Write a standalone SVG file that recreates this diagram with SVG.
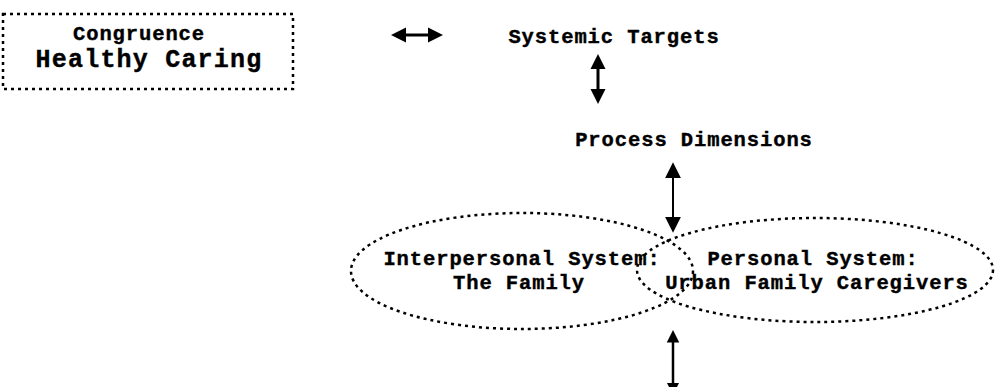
<svg xmlns="http://www.w3.org/2000/svg" width="999" height="387" viewBox="0 0 999 387">
<style>
  .t { font-family: "Liberation Mono", "Courier New", monospace; font-weight: bold; font-size: 20.5px; letter-spacing: 0.9px; fill: #000; stroke: #000; stroke-width: 0.4; text-anchor: middle; }
  .big { font-size: 25px; letter-spacing: 1.2px; }
  .dot { fill: none; stroke: #000; stroke-width: 2.5; stroke-dasharray: 3 4; }
  .shaft { stroke: #000; fill: none; }
</style>
<defs>
  <marker id="ah" viewBox="0 0 10 10" refX="2" refY="5" markerWidth="5" markerHeight="5.5" orient="auto-start-reverse" markerUnits="strokeWidth">
    <path d="M0,0 L10,5 L0,10 Z" fill="#000"/>
  </marker>
  <marker id="ah2" viewBox="0 0 10 10" refX="2" refY="5" markerWidth="8" markerHeight="9" orient="auto-start-reverse" markerUnits="strokeWidth">
    <path d="M0,0 L10,5 L0,10 Z" fill="#000"/>
  </marker>
</defs>

<g id="congruence">
  <rect class="dot" x="3" y="14" width="290" height="75"/>
  <text class="t" x="139" y="40">Congruence</text>
  <text class="t big" x="149" y="67">Healthy Caring</text>
</g>

<g id="systemic-targets">
  <text class="t" x="614" y="43">Systemic Targets</text>
</g>

<g id="process-dimensions">
  <text class="t" x="694" y="146">Process Dimensions</text>
</g>

<g id="interpersonal-system">
  <ellipse class="dot" cx="522" cy="271" rx="171" ry="58"/>
  <text class="t" x="522" y="265">Interpersonal System:</text>
  <text class="t" x="519" y="289">The Family</text>
</g>

<g id="personal-system">
  <ellipse class="dot" cx="815" cy="270" rx="178" ry="52"/>
  <text class="t" x="813" y="265">Personal System:</text>
  <text class="t" x="817" y="289">Urban Family Caregivers</text>
</g>

<g id="connectors">
  <line class="shaft" x1="403" y1="35" x2="431" y2="35" stroke-width="3" marker-start="url(#ah)" marker-end="url(#ah)"/>
  <line class="shaft" x1="598" y1="66" x2="598" y2="92" stroke-width="3" marker-start="url(#ah)" marker-end="url(#ah)"/>
  <line class="shaft" x1="673" y1="175" x2="673" y2="220" stroke-width="2" marker-start="url(#ah2)" marker-end="url(#ah2)"/>
  <line class="shaft" x1="673" y1="340" x2="673" y2="385" stroke-width="2.5" marker-start="url(#ah)" marker-end="url(#ah)"/>
</g>
</svg>
